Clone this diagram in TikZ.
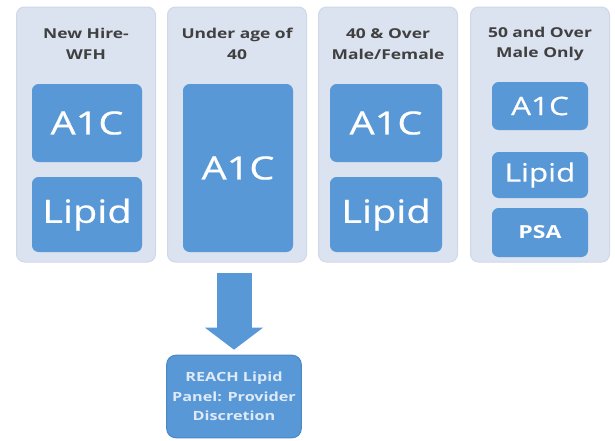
\documentclass[tikz,border=0pt]{standalone}
\usepackage{fontspec}
\setmainfont{Open Sans}
\newfontfamily\widesans[FakeStretch=1.28]{Open Sans}
\newfontfamily\tilesans[FakeStretch=1.24, FakeBold=0.6]{Open Sans}
\usepackage{tikz}
\usetikzlibrary{arrows.meta}
\tikzset{every picture/.style={line width=0.75pt}}
\definecolor{panelbg}{RGB}{219,226,240}
\definecolor{paneledge}{RGB}{208,216,232}
\definecolor{tileblue}{RGB}{88,152,214}
\definecolor{tileedge}{RGB}{74,136,200}
\definecolor{headgray}{RGB}{64,64,64}
\definecolor{reachtext}{RGB}{222,234,247}
\tikzset{
  panel/.style={draw=paneledge, fill=panelbg, rounded corners=6pt, minimum width=104.25pt, minimum height=191.25pt, inner sep=0pt},
  headtxt/.style={align=center, text=headgray, font=\widesans\bfseries\fontsize{10.2}{15.5}\selectfont, inner sep=0pt},
  tile/.style={fill=tileblue, rounded corners=5pt, text=white, inner sep=0pt, minimum width=82.5pt},
  bigtxt/.style={font=\tilesans\fontsize{24}{28}\selectfont},
  midtxt/.style={font=\tilesans\fontsize{19}{22}\selectfont},
  smalltxt/.style={font=\widesans\bfseries\fontsize{13.5}{16}\selectfont},
  reachbox/.style={draw=tileedge, fill=tileblue, rounded corners=7pt, text=reachtext, align=center, font=\widesans\bfseries\fontsize{9.5}{14.5}\selectfont, minimum width=101pt, minimum height=62pt, inner sep=0pt},
  blockarrow/.style={draw=tileblue, line width=26.25pt, -{Triangle[width=42.75pt, length=16.5pt]}, shorten <=7.5pt, shorten >=3.75pt}
}
\begin{document}
\begin{tikzpicture}[x=0.75pt,y=0.75pt,yscale=-1,xscale=1]
\useasboundingbox (0,0) rectangle (615,440);

% Panels
\node [panel] (c1) at (86,134.5) {};
\node [panel] (c2) at (237,134.5) {};
\node [panel] (c3) at (388,134.5) {};
\node [panel] (c4) at (540,134.5) {};

% Headers
\node [headtxt] (h1) at (86,44) {New Hire-\\WFH};
\node [headtxt] (h2) at (237,44) {Under age of\\40};
\node [headtxt] (h3) at (388,44) {40 \& Over\\Male/Female};
\node [headtxt] (h4) at (540,44) {50 and Over\\Male Only};

% Tests
\node [tile, bigtxt, minimum height=58.5pt] (a1) at (87,123) {A1C};
\node [tile, bigtxt, minimum height=56.25pt] (l1) at (87,214.5) {Lipid};
\node [tile, bigtxt, minimum height=126pt] (a2) at (238,168) {A1C};
\node [tile, bigtxt, minimum height=58.5pt, minimum width=84pt] (a3) at (386,123) {A1C};
\node [tile, bigtxt, minimum height=56.25pt, minimum width=84pt] (l3) at (386,214.5) {Lipid};
\node [tile, midtxt, minimum height=36pt, minimum width=72pt] (a4) at (540,106) {A1C};
\node [tile, midtxt, minimum height=34.5pt, minimum width=72pt] (l4) at (540,175) {Lipid};
\node [tile, smalltxt, minimum height=36.75pt, minimum width=72pt] (p4) at (540,232.5) {PSA};

% Referral
\node [reachbox] (reach) at (234,396.5) {REACH Lipid\\Panel: Provider\\Discretion};
\draw [blockarrow] (reach.north |- c2.south) -- (reach.north);
\end{tikzpicture}
\end{document}
